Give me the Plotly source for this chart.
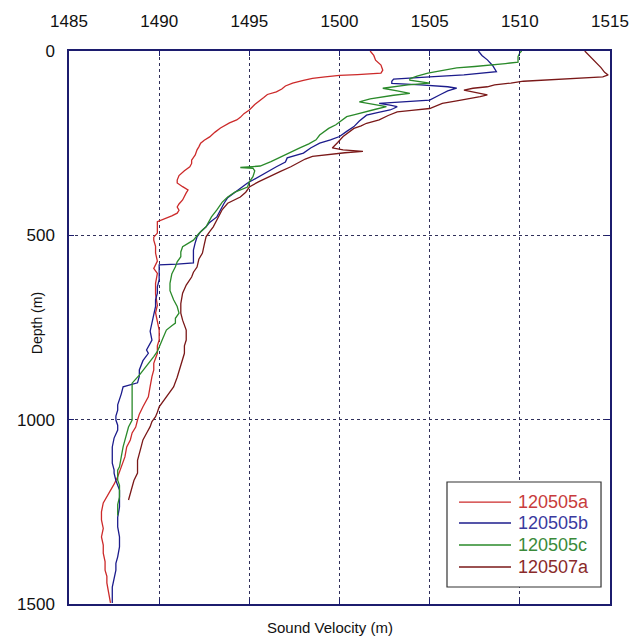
import plotly.graph_objects as go

# ---------------- data ----------------
series_names = ["120505a", "120505b", "120505c", "120507a"]

a_depth = [0, 12, 25, 38, 52, 60, 64, 66, 70, 74, 80, 87, 95, 103, 111, 118, 126, 133, 145, 160, 170, 180, 187, 195, 203, 209, 220, 233, 242, 250, 260, 268, 282, 296, 305, 314, 325, 338, 350, 358, 368, 377, 385, 395, 404, 415, 423, 432, 440, 447, 453, 458, 463, 475, 494, 505, 513, 530, 548, 570, 590, 603, 630, 660, 690, 710, 730, 757, 784, 800, 820, 847, 865, 883, 910, 938, 965, 985, 1001, 1020, 1036, 1055, 1074, 1101, 1128, 1155, 1175, 1191, 1210, 1226, 1250, 1272, 1295, 1318, 1340, 1362, 1385, 1408, 1425, 1443, 1470, 1497]
a_vel = [1501.7, 1501.9, 1502.0, 1502.3, 1502.4, 1502.3, 1501.0, 1500.0, 1499.2, 1498.5, 1498.0, 1497.4, 1497.0, 1496.8, 1496.5, 1496.0, 1495.8, 1495.6, 1495.3, 1495.0, 1494.7, 1494.5, 1494.3, 1493.9, 1493.6, 1493.4, 1493.1, 1492.8, 1492.5, 1492.3, 1492.2, 1492.1, 1492.0, 1491.8, 1491.8, 1491.7, 1491.4, 1491.1, 1491.0, 1491.0, 1491.3, 1491.6, 1491.5, 1491.4, 1491.3, 1491.1, 1491.0, 1491.1, 1491.0, 1490.7, 1490.4, 1490.1, 1489.9, 1489.9, 1489.9, 1489.7, 1489.7, 1489.8, 1489.8, 1489.9, 1489.7, 1489.9, 1489.8, 1489.8, 1489.9, 1489.8, 1489.9, 1490.0, 1490.0, 1489.9, 1489.9, 1489.7, 1489.7, 1489.6, 1489.5, 1489.4, 1489.1, 1488.9, 1488.8, 1488.7, 1488.5, 1488.4, 1488.2, 1488.1, 1487.9, 1487.7, 1487.5, 1487.3, 1487.1, 1486.9, 1486.8, 1486.8, 1486.9, 1486.8, 1486.9, 1486.9, 1487.0, 1487.0, 1487.1, 1487.1, 1487.2, 1487.3]

b_depth = [0, 12, 24, 40, 56, 60, 65, 70, 76, 82, 88, 92, 97, 101, 108, 118, 126, 133, 138, 142, 147, 151, 156, 160, 167, 174, 190, 205, 218, 232, 241, 250, 263, 277, 290, 301, 314, 328, 341, 350, 358, 372, 385, 398, 413, 430, 450, 465, 477, 490, 504, 520, 540, 558, 575, 578, 580, 600, 620, 640, 657, 675, 693, 715, 738, 760, 784, 800, 811, 820, 840, 865, 882, 900, 905, 911, 930, 947, 960, 974, 990, 1001, 1015, 1028, 1050, 1074, 1090, 1110, 1118, 1136, 1145, 1165, 1191, 1210, 1237, 1265, 1291, 1318, 1345, 1372, 1390, 1408, 1430, 1454, 1475, 1497]
b_vel = [1507.7, 1507.9, 1508.2, 1508.5, 1508.7, 1508.0, 1506.9, 1505.0, 1503.0, 1502.9, 1502.9, 1504.5, 1506.0, 1506.5, 1506.0, 1505.6, 1505.3, 1505.0, 1503.5, 1502.2, 1502.8, 1503.2, 1503.0, 1502.8, 1502.1, 1501.5, 1501.1, 1500.8, 1500.4, 1500.0, 1499.5, 1498.9, 1498.4, 1498.0, 1497.1, 1497.0, 1496.5, 1496.0, 1495.6, 1495.2, 1494.9, 1494.5, 1494.1, 1493.8, 1493.6, 1493.4, 1493.2, 1492.8, 1492.6, 1492.3, 1492.1, 1492.0, 1491.9, 1491.9, 1491.9, 1491.0, 1490.0, 1490.0, 1490.0, 1489.9, 1489.9, 1489.8, 1489.8, 1489.7, 1489.6, 1489.5, 1489.6, 1489.4, 1489.3, 1489.4, 1489.1, 1488.9, 1488.9, 1488.8, 1488.4, 1488.0, 1487.9, 1487.8, 1487.7, 1487.7, 1487.6, 1487.6, 1487.7, 1487.7, 1487.5, 1487.4, 1487.4, 1487.4, 1487.4, 1487.5, 1487.5, 1487.6, 1487.8, 1487.8, 1487.8, 1487.7, 1487.7, 1487.8, 1487.8, 1487.7, 1487.6, 1487.6, 1487.5, 1487.4, 1487.4, 1487.4]

c_depth = [0, 5, 15, 30, 34, 38, 42, 46, 52, 60, 68, 75, 79, 83, 87, 92, 97, 101, 108, 115, 120, 124, 130, 138, 144, 151, 158, 165, 172, 178, 185, 192, 200, 210, 220, 228, 241, 252, 263, 277, 290, 300, 312, 316, 318, 325, 341, 355, 369, 383, 396, 410, 431, 450, 477, 495, 513, 522, 531, 545, 558, 572, 585, 605, 630, 650, 675, 693, 711, 725, 738, 745, 757, 780, 802, 815, 829, 842, 856, 868, 879, 890, 901, 925, 947, 975, 1001, 1020, 1036, 1055, 1074, 1100, 1128, 1137, 1150, 1164, 1178, 1191, 1210, 1230, 1254, 1260]
c_vel = [1510.1, 1510.0, 1509.9, 1509.9, 1509.2, 1508.5, 1507.5, 1506.5, 1505.7, 1504.9, 1504.3, 1503.9, 1503.9, 1504.6, 1505.0, 1503.8, 1502.8, 1502.4, 1503.2, 1503.9, 1503.0, 1502.4, 1501.7, 1501.1, 1501.8, 1502.6, 1502.0, 1501.5, 1500.9, 1500.4, 1500.2, 1500.0, 1499.8, 1499.4, 1499.1, 1498.9, 1498.7, 1498.3, 1497.8, 1497.2, 1496.7, 1496.2, 1495.6, 1494.5, 1495.2, 1495.3, 1495.2, 1495.0, 1494.9, 1494.2, 1493.8, 1493.5, 1493.2, 1492.9, 1492.6, 1492.2, 1491.9, 1491.6, 1491.3, 1491.2, 1491.2, 1491.0, 1490.9, 1490.7, 1490.6, 1490.6, 1490.8, 1491.0, 1491.1, 1490.9, 1490.9, 1490.7, 1490.4, 1490.2, 1490.0, 1489.9, 1489.7, 1489.5, 1489.3, 1489.1, 1488.9, 1488.7, 1488.5, 1488.5, 1488.5, 1488.5, 1488.5, 1488.3, 1488.2, 1488.1, 1488.0, 1487.9, 1487.8, 1487.7, 1487.7, 1487.7, 1487.8, 1487.8, 1487.8, 1487.7, 1487.7, 1487.7]

d_depth = [0, 15, 30, 45, 58, 65, 70, 76, 82, 87, 92, 97, 101, 106, 112, 119, 124, 128, 135, 142, 150, 156, 161, 165, 175, 187, 196, 203, 210, 220, 232, 248, 263, 268, 272, 276, 280, 286, 293, 301, 308, 314, 327, 341, 355, 369, 383, 396, 405, 413, 430, 450, 477, 490, 504, 525, 548, 565, 586, 600, 613, 635, 657, 685, 711, 730, 757, 784, 800, 820, 838, 856, 885, 911, 925, 938, 950, 965, 980, 992, 1005, 1019, 1037, 1055, 1074, 1091, 1110, 1128, 1145, 1165, 1182, 1200, 1218]
d_vel = [1513.6, 1513.9, 1514.2, 1514.5, 1514.7, 1514.9, 1514.6, 1512.0, 1510.2, 1509.5, 1508.6, 1508.2, 1507.4, 1506.9, 1507.6, 1508.2, 1507.8, 1507.4, 1506.5, 1505.7, 1505.3, 1505.0, 1504.0, 1503.2, 1502.7, 1502.2, 1501.5, 1501.2, 1500.8, 1500.5, 1500.2, 1499.9, 1499.6, 1500.2, 1501.3, 1500.3, 1499.7, 1498.5, 1498.1, 1497.8, 1497.5, 1497.3, 1496.7, 1496.1, 1495.5, 1495.0, 1494.8, 1494.5, 1494.1, 1493.8, 1493.5, 1493.3, 1493.0, 1492.8, 1492.6, 1492.5, 1492.4, 1492.2, 1492.1, 1491.9, 1491.8, 1491.5, 1491.3, 1491.2, 1491.2, 1491.3, 1491.5, 1491.5, 1491.4, 1491.4, 1491.3, 1491.2, 1491.0, 1490.8, 1490.6, 1490.4, 1490.2, 1490.0, 1489.9, 1489.8, 1489.6, 1489.5, 1489.3, 1489.1, 1489.0, 1488.9, 1488.8, 1488.8, 1488.8, 1488.6, 1488.5, 1488.4, 1488.3]

x_ticks = [1485, 1490, 1495, 1500, 1505, 1510, 1515]
y_ticks = [0, 500, 1000, 1500]

line_colors = ["#cc2a2a", "#1c1c8c", "#2a8a2a", "#7a1818"]
text_colors = ["#c83c3c", "#3a3aa0", "#3a8a3a", "#8a2a2a"]

# ---------------- figure ----------------
FONT = "Liberation Sans, Arial, sans-serif"
fig = go.Figure()
all_vel = [a_vel, b_vel, c_vel, d_vel]
all_dep = [a_depth, b_depth, c_depth, d_depth]
for name, v, dpt, lc in zip(series_names, all_vel, all_dep, line_colors):
    fig.add_trace(go.Scatter(
        x=v, y=dpt, mode="lines", name=name, showlegend=False,
        line=dict(color=lc, width=1.3),
    ))

# legend box drawn in paper coordinates (bottom-right of the plot)
shapes = [dict(type="rect", xref="paper", yref="paper",
               x0=0.6987, x1=0.9834, y0=0.0307, y1=0.2206,
               line=dict(color="#333333", width=1.2), fillcolor="white", layer="above")]
annotations = []
row_y = [0.1844, 0.1465, 0.1067, 0.0669]
for name, lc, tc, ry in zip(series_names, line_colors, text_colors, row_y):
    shapes.append(dict(type="line", xref="paper", yref="paper",
                       x0=0.7209, x1=0.8170, y0=ry, y1=ry,
                       line=dict(color=lc, width=1.3), layer="above"))
    annotations.append(dict(text=name, xref="paper", yref="paper",
                            x=0.8262, y=ry, xanchor="left", yanchor="middle",
                            showarrow=False,
                            font=dict(family=FONT, size=18, color=tc)))

annotations.append(dict(
    text="Sound Velocity (m)", xref="paper", yref="paper",
    x=0.483, y=-0.043, xanchor="center", yanchor="middle",
    showarrow=False, font=dict(family=FONT, size=15, color="#111111"),
))
annotations.append(dict(
    text="Depth (m)", xref="paper", yref="paper", textangle=-90,
    x=-0.059, y=0.508, xanchor="center", yanchor="middle",
    showarrow=False, font=dict(family=FONT, size=14, color="#111111"),
))

axis_col = "#1c1c6e"
grid_col = "#30305a"
fig.update_layout(
    width=634, height=637,
    margin=dict(l=69, r=24, t=51, b=33, autoexpand=False),
    paper_bgcolor="white", plot_bgcolor="white",
    font=dict(family=FONT, size=17, color="#111111"),
    showlegend=False,
    shapes=shapes,
    annotations=annotations,
    xaxis=dict(
        range=[1485, 1515], side="top", tickmode="array", tickvals=x_ticks,
        ticktext=[str(t) for t in x_ticks],
        showgrid=True, gridcolor=grid_col, griddash="dot", gridwidth=1,
        showline=True, linecolor=axis_col, linewidth=1.5, mirror="ticks",
        ticks="inside", ticklen=5, tickcolor=axis_col,
        zeroline=False, tickfont=dict(size=17, color="#111111"),
        ticklabelstandoff=15, automargin=False,
    ),
    yaxis=dict(
        range=[1500, 0], tickmode="array", tickvals=y_ticks,
        ticktext=[str(t) for t in y_ticks],
        showgrid=True, gridcolor=grid_col, griddash="dot", gridwidth=1,
        showline=True, linecolor=axis_col, linewidth=1.5, mirror="ticks",
        ticks="inside", ticklen=5, tickcolor=axis_col,
        zeroline=False, tickfont=dict(size=17, color="#111111"),
        ticklabelstandoff=9, automargin=False,
    ),
)

fig.write_html("out.html")
